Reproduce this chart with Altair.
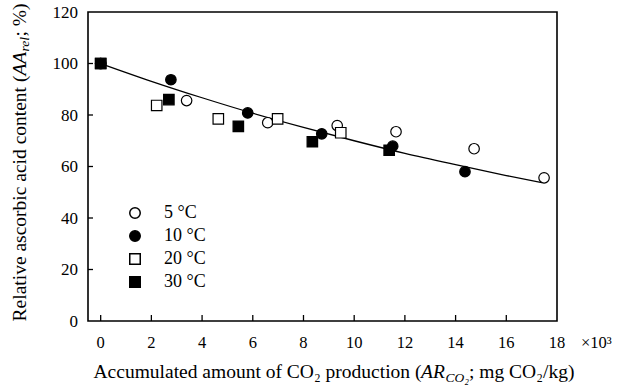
import altair as alt
import pandas as pd

# ---- data ----
series_names = ["5 °C", "10 °C", "20 °C", "30 °C"]

x_5 = [0, 3.39, 6.59, 9.33, 11.65, 14.73, 17.49]
y_5 = [100, 85.6, 77.0, 75.9, 73.5, 66.9, 55.6]

x_10 = [0, 2.77, 5.80, 8.72, 11.52, 14.37]
y_10 = [100, 93.7, 80.8, 72.7, 67.9, 58.0]

x_20 = [0, 2.21, 4.64, 6.98, 9.47]
y_20 = [100, 83.7, 78.5, 78.5, 73.1]

x_30 = [0, 2.69, 5.43, 8.35, 11.38]
y_30 = [100, 86.0, 75.6, 69.6, 66.3]

fit_x = [0, 2, 4, 6, 8, 10, 12, 14, 16, 17.4]
fit_y = [100, 93.1, 86.7, 80.7, 75.2, 70.0, 65.1, 60.7, 56.5, 53.7]

x_ticks = [0, 2, 4, 6, 8, 10, 12, 14, 16, 18]
y_ticks = [0, 20, 40, 60, 80, 100, 120]

rows = []
for name, xs, ys in [("5 °C", x_5, y_5), ("10 °C", x_10, y_10),
                     ("20 °C", x_20, y_20), ("30 °C", x_30, y_30)]:
    for a, b in zip(xs, ys):
        rows.append({"x": a, "y": b, "series": name})
pts = pd.DataFrame(rows)
fit = pd.DataFrame({"x": fit_x, "y": fit_y})
xt = pd.DataFrame({"x": x_ticks})
yt = pd.DataFrame({"y": y_ticks})

W, H = 469, 309
SERIF = "Liberation Serif"

xscale = alt.Scale(domain=[-0.5, 18], nice=False, zero=False)
yscale = alt.Scale(domain=[0, 120], nice=False)

xaxis = alt.Axis(values=x_ticks, title=None, ticks=False, domain=False, grid=False, labels=False)
yaxis = alt.Axis(values=y_ticks, title=None, ticks=False, domain=False, grid=False, labels=False)

line = alt.Chart(fit).mark_line(color="black", strokeWidth=1.3, interpolate="monotone").encode(
    x=alt.X("x:Q", scale=xscale, axis=xaxis),
    y=alt.Y("y:Q", scale=yscale, axis=yaxis),
)

leg = dict(title=None, orient="none", legendX=38, legendY=192,
           labelFont=SERIF, labelFontSize=18, labelColor="black",
           symbolSize=110, rowPadding=5, labelOffset=20, padding=0)

points = alt.Chart(pts).mark_point(filled=True, stroke="black", strokeWidth=1.2,
                                   size=110, opacity=1, fillOpacity=1).encode(
    x=alt.X("x:Q", scale=xscale, axis=xaxis),
    y=alt.Y("y:Q", scale=yscale, axis=yaxis),
    fill=alt.Fill("series:N", scale=alt.Scale(domain=series_names,
                                              range=["white", "black", "white", "black"]),
                  legend=alt.Legend(**leg)),
    shape=alt.Shape("series:N", scale=alt.Scale(domain=series_names,
                                                range=["circle", "circle", "square", "square"]),
                    legend=alt.Legend(**leg)),
)

# inward ticks
xtick_marks = alt.Chart(xt[xt.x < 18]).mark_rule(color="black", strokeWidth=1.3).encode(
    x=alt.X("x:Q", scale=xscale, axis=xaxis), y=alt.value(H), y2=alt.value(H - 6))
ytick_marks = alt.Chart(yt[(yt.y > 0) & (yt.y < 120)]).mark_rule(color="black", strokeWidth=1.3).encode(
    y=alt.Y("y:Q", scale=yscale, axis=yaxis), x=alt.value(0), x2=alt.value(5))

# tick labels
xlab = alt.Chart(xt).mark_text(font=SERIF, fontSize=16.5, color="black", baseline="alphabetic").encode(
    x=alt.X("x:Q", scale=xscale, axis=xaxis), y=alt.value(H + 27), text=alt.Text("x:Q"))
ylab = alt.Chart(yt).mark_text(font=SERIF, fontSize=17, color="black", align="right",
                               baseline="alphabetic", dy=5.8).encode(
    y=alt.Y("y:Q", scale=yscale, axis=yaxis), x=alt.value(-10), text=alt.Text("y:Q"))


def txt(t, x, y, size=19.5, italic=False, angle=0, align="left", baseline="alphabetic"):
    kw = dict(text=t, font=SERIF, fontSize=size, color="black", align=align, baseline=baseline)
    if italic:
        kw["fontStyle"] = "italic"
    if angle:
        kw["angle"] = angle
    return alt.Chart(pd.DataFrame({"a": [0]})).mark_text(**kw).encode(
        x=alt.value(x), y=alt.value(y))


# x axis title pieces
xt_y = 366
p1 = 16.795 * 19.5
xtitle = [
    txt("Accumulated amount of CO₂ production (", 5.5, xt_y),
    txt("AR", 5.5 + p1, xt_y, italic=True),
    txt("CO₂", 5.5 + p1 + 24.5, xt_y + 4, size=13.5, italic=True),
    txt("; mg CO₂/kg)", 5.5 + p1 + 48, xt_y),
]
# y axis title pieces (rotated)
yx = -68.5
q1 = 12.608 * 19.5
ytitle = [
    txt("Relative ascorbic acid content (", yx, 309.4, angle=270, baseline="middle"),
    txt("AA", yx, 309.4 - q1, italic=True, angle=270, baseline="middle"),
    txt("rel", yx + 5, 309.4 - q1 - 24, size=13.5, italic=True, angle=270, baseline="middle"),
    txt("; %)", yx, 309.4 - q1 - 39, angle=270, baseline="middle"),
]
mult = txt("×10³", 493, 336, size=16.5)

chart = alt.layer(line, xtick_marks, ytick_marks, points, xlab, ylab,
                  *xtitle, *ytitle, mult).properties(
    width=W, height=H, background="white",
    padding={"left": 88, "top": 12, "right": 73, "bottom": 68},
    autosize=alt.AutoSizeParams(type="none"),
).configure_view(stroke="black", strokeWidth=1.6).configure_legend(
    labelFont=SERIF, labelFontSize=18, labelColor="black",
    symbolSize=110, rowPadding=5, labelOffset=20, padding=0,
)

chart.save("out.html", embed_options={"renderer": "svg", "actions": False})
